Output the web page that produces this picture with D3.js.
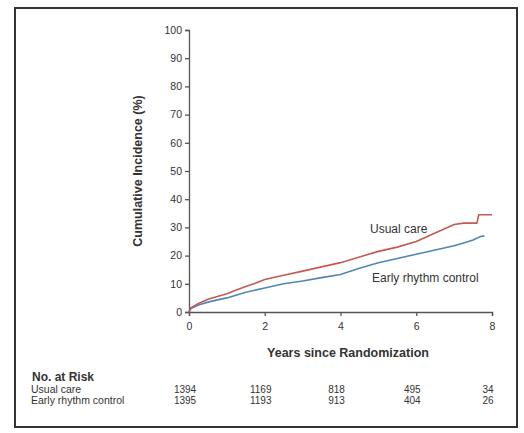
<!DOCTYPE html>
<html>
<head>
<meta charset="utf-8">
<script src="https://cdn.jsdelivr.net/npm/d3@7"></script>
<style>
  body { margin: 0; background: #fff; }
  text { font-family: "Liberation Sans", Arial, sans-serif; fill: #333; }
</style>
</head>
<body>
<div id="chart"></div>
<script>
// values
const usualYears = [0, 0.05, 0.25, 0.5, 0.75, 1, 1.25, 1.5, 1.75, 2, 2.5, 3, 3.5, 4, 4.5, 5, 5.5, 6, 6.25, 6.5, 6.75, 7, 7.25, 7.6, 7.65, 8];
const usualVals  = [0, 1.5, 3, 4.5, 5.5, 6.5, 7.8, 9, 10.2, 11.5, 13, 14.5, 16, 17.5, 19.5, 21.5, 23, 25, 26.5, 28, 29.5, 31, 31.5, 31.5, 34.5, 34.5];
const earlyYears = [0, 0.05, 0.25, 0.5, 0.75, 1, 1.5, 2, 2.5, 3, 3.5, 4, 4.5, 5, 5.5, 6, 6.5, 7, 7.25, 7.5, 7.7, 7.8];
const earlyVals  = [0, 1.2, 2.5, 3.5, 4.3, 5, 7, 8.5, 10, 11, 12.2, 13.3, 15.5, 17.5, 19, 20.5, 22, 23.5, 24.5, 25.5, 26.8, 27];

const xTicks = [0, 2, 4, 6, 8];
const yTicks = d3.range(0, 101, 10);
const riskGroups = ['Usual care', 'Early rhythm control'];
const riskUsual = [1394, 1169, 818, 495, 34];
const riskEarly = [1395, 1193, 913, 404, 26];

const width = 524, height = 433;
const svg = d3.select('#chart').append('svg')
    .attr('width', width)
    .attr('height', height);

// outer frame
svg.append('rect')
    .attr('x', 15).attr('y', 8)
    .attr('width', 502).attr('height', 419)
    .attr('fill', 'none')
    .attr('stroke', '#333')
    .attr('stroke-width', 2);

const x = d3.scaleLinear().domain([0, 8]).range([189, 492]);
const y = d3.scaleLinear().domain([0, 100]).range([312, 30]);

const yAxis = svg.append('g')
    .attr('transform', 'translate(189,0)')
    .call(d3.axisLeft(y).tickValues(yTicks).tickSize(4).tickPadding(3));
const xAxis = svg.append('g')
    .attr('transform', 'translate(0,312)')
    .call(d3.axisBottom(x).tickValues(xTicks).tickSize(4).tickPadding(7));

[xAxis, yAxis].forEach(g => {
    g.select('.domain').attr('stroke', '#555').attr('stroke-width', 1.3);
    g.selectAll('.tick line').attr('stroke', '#555').attr('stroke-width', 1.3);
    g.selectAll('.tick text').style('font-size', '10.5px').style('font-family', '"Liberation Sans Narrow", "Liberation Sans", sans-serif').attr('fill', '#333');
});

svg.append('text')
    .attr('transform', 'translate(142,171) rotate(-90)')
    .attr('text-anchor', 'middle')
    .style('font-size', '12.5px')
    .style('font-weight', 'bold')
    .text('Cumulative Incidence (%)');

svg.append('text')
    .attr('x', 348).attr('y', 357)
    .attr('text-anchor', 'middle')
    .style('font-size', '12.5px')
    .style('font-weight', 'bold')
    .text('Years since Randomization');

const line = d3.line()
    .x(d => x(d[0]))
    .y(d => y(d[1]));

svg.append('path')
    .datum(earlyYears.map((v, i) => [v, earlyVals[i]]))
    .attr('fill', 'none')
    .attr('stroke', '#4f86b6')
    .attr('stroke-width', 1.6)
    .attr('d', line);

svg.append('path')
    .datum(usualYears.map((v, i) => [v, usualVals[i]]))
    .attr('fill', 'none')
    .attr('stroke', '#c65a52')
    .attr('stroke-width', 1.6)
    .attr('d', line);

svg.append('text')
    .attr('x', 370).attr('y', 233)
    .style('font-size', '12px')
    .text('Usual care');
svg.append('text')
    .attr('x', 372).attr('y', 282)
    .style('font-size', '12px')
    .text('Early rhythm control');

// numbers at risk
svg.append('text')
    .attr('x', 32).attr('y', 381)
    .style('font-size', '12px')
    .style('font-weight', 'bold')
    .text('No. at Risk');

[riskUsual, riskEarly].forEach((row, r) => {
    const ty = 393 + r * 11;
    svg.append('text')
        .attr('x', 31).attr('y', ty)
        .style('font-size', '10.5px')
        .text(riskGroups[r]);
    svg.selectAll(null)
        .data(row)
        .enter()
        .append('text')
        .attr('x', (d, i) => x(xTicks[i]) - 4)
        .attr('y', ty)
        .attr('text-anchor', 'middle')
        .style('font-size', '10px')
        .text(d => d);
});
</script>
</body>
</html>
